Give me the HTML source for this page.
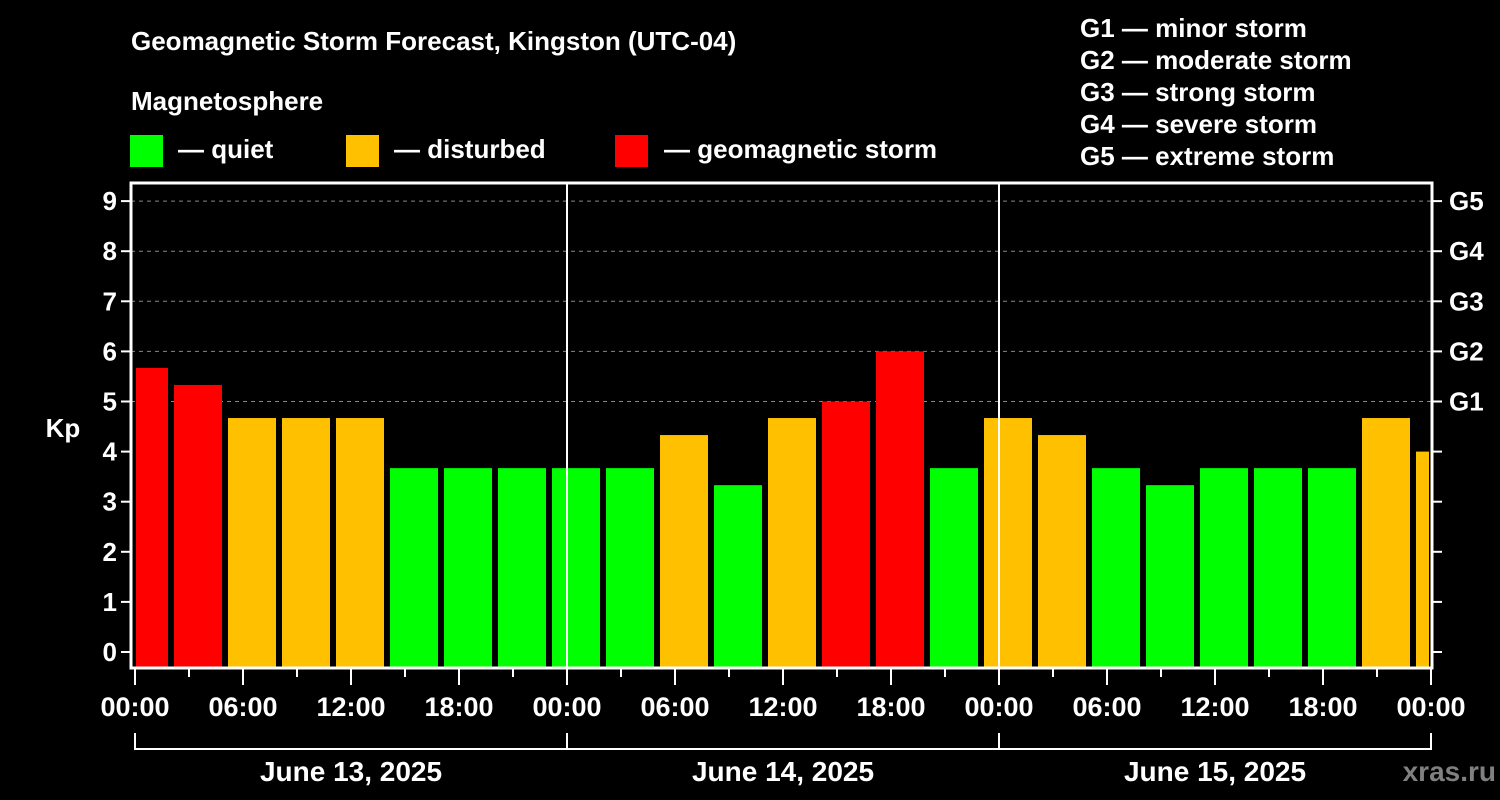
<!DOCTYPE html>
<html><head><meta charset="utf-8"><style>
html,body{margin:0;padding:0;background:#000;}
svg{display:block;font-family:"Liberation Sans",Arial,sans-serif;font-weight:bold;}
</style></head><body>
<svg id="chart" width="1500" height="800" viewBox="0 0 1500 800" xmlns="http://www.w3.org/2000/svg">
<rect x="0" y="0" width="1500" height="800" fill="#000"/>
<text x="131" y="50" fill="#fff" font-size="26">Geomagnetic Storm Forecast, Kingston (UTC-04)</text>
<text x="131" y="110" fill="#fff" font-size="26">Magnetosphere</text>
<g><rect x="130" y="135" width="33" height="32" fill="#00ff00"/><text x="178" y="158" fill="#fff" font-size="26">— quiet</text></g>
<g><rect x="346" y="135" width="33" height="32" fill="#ffc000"/><text x="394" y="158" fill="#fff" font-size="26">— disturbed</text></g>
<g><rect x="615" y="135" width="33" height="32" fill="#ff0000"/><text x="664" y="158" fill="#fff" font-size="26">— geomagnetic storm</text></g>
<g fill="#fff" font-size="26">
<text x="1080" y="37">G1 — minor storm</text>
<text x="1080" y="69">G2 — moderate storm</text>
<text x="1080" y="101">G3 — strong storm</text>
<text x="1080" y="133">G4 — severe storm</text>
<text x="1080" y="165">G5 — extreme storm</text>
</g>
<g id="grid"></g>
<g id="bars"></g>
<g id="axes"></g>
<text x="63" y="437" fill="#fff" font-size="26" text-anchor="middle">Kp</text>
<text x="1496" y="781" fill="#808080" font-size="28" text-anchor="end">xras.ru</text>
</svg>
<script>
const kpValues = [5.67,5.33,4.67,4.67,4.67,3.67,3.67,3.67,3.67,3.67,4.33,3.33,4.67,5.0,6.0,3.67,4.67,4.33,3.67,3.33,3.67,3.67,3.67,4.67,4.0];
const yTicks = [0,1,2,3,4,5,6,7,8,9];
const gLabels = ["G1","G2","G3","G4","G5"];
const gLevels = [5,6,7,8,9];
const xTickLabels = ["00:00","06:00","12:00","18:00","00:00","06:00","12:00","18:00","00:00","06:00","12:00","18:00","00:00"];
const dayLabels = ["June 13, 2025","June 14, 2025","June 15, 2025"];

const NS="http://www.w3.org/2000/svg";
const L=131,R=1432,T=183,B=668,X0=135,HOUR=18,Y0=652,UNIT=50.1;
const xs=h=>X0+h*HOUR;
const ys=k=>Y0-k*UNIT;
function mk(tag,attrs,parent){const e=document.createElementNS(NS,tag);for(const k in attrs)e.setAttribute(k,attrs[k]);parent.appendChild(e);return e;}
const grid=document.getElementById('grid'),bars=document.getElementById('bars'),axes=document.getElementById('axes');

yTicks.forEach(k=>{
  if(k>=5){const g=mk('line',{x1:L,x2:R,y1:ys(k),y2:ys(k),stroke:'#888','stroke-width':1,'stroke-dasharray':'4 4'},grid);
  
  }
  const t=mk('line',{x1:L-10,x2:L,y1:ys(k),y2:ys(k),stroke:'#fff','stroke-width':2},axes);
  
  
  const r=mk('line',{x1:R,x2:R+10,y1:ys(k),y2:ys(k),stroke:'#fff','stroke-width':2},axes);
  
  
  const lb=mk('text',{x:L-14,y:ys(k)+9,fill:'#fff','font-size':26,'text-anchor':'end'},axes);lb.textContent=k;
  
  
});
gLabels.forEach((g,i)=>{
  const t=mk('text',{x:R+17,y:ys(gLevels[i])+9,fill:'#fff','font-size':26},axes);t.textContent=g;
  
  
});

kpValues.forEach((v,i)=>{
  let x1=xs(i*3)-15,x2=x1+48;x1=Math.max(x1,L+5);x2=Math.min(x2,R-3);
  const c=v>=5?'#ff0000':(v>=4?'#ffc000':'#00ff00');
  const b=mk('rect',{x:x1,y:ys(v),width:x2-x1,height:B-ys(v),fill:c},bars);
  
  
});

[1,2].forEach(d=>{const l=mk('line',{x1:xs(d*24),x2:xs(d*24),y1:T,y2:B,stroke:'#fff','stroke-width':2},axes);
  
  });
const fr=mk('rect',{x:L,y:T,width:R-L,height:B-T,fill:'none',stroke:'#fff','stroke-width':3},axes);



for(let h=0;h<=72;h+=3){
  const len=h%24===0?17:(h%6===0?17:9);
  const t=mk('line',{x1:xs(h),x2:xs(h),y1:B,y2:B+len,stroke:'#fff','stroke-width':2},axes);
  
  
}
xTickLabels.forEach((s,i)=>{
  const t=mk('text',{x:xs(i*6),y:716,fill:'#fff','font-size':27,'text-anchor':'middle'},axes);t.textContent=s;
  
  
});
dayLabels.forEach((s,d)=>{
  const a=xs(d*24),b=xs((d+1)*24);
  const p=mk('path',{d:`M${a} 733V749H${b}V733`,fill:'none',stroke:'#fff','stroke-width':2},axes);
  
  
  const t=mk('text',{x:(a+b)/2,y:781,fill:'#fff','font-size':28,'text-anchor':'middle'},axes);t.textContent=s;
  
  
});
</script>
</body></html>
